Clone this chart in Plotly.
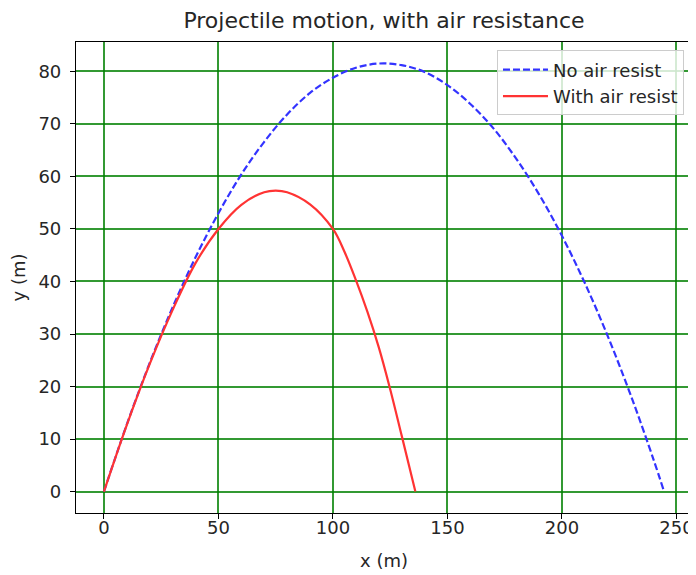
import plotly.graph_objects as go

# Data
x_no_air = [0, 10, 20, 30, 40, 50, 60, 70, 80, 90, 100, 110, 120, 130, 140,
            150, 160, 170, 180, 190, 200, 210, 220, 230, 240, 244.6]
y_no_air = [0, 12.8, 24.5, 35.1, 44.6, 53.0, 60.4, 66.6, 71.8, 75.9, 78.8, 80.7,
            81.5, 81.2, 79.9, 77.4, 73.8, 69.2, 63.4, 56.6, 48.7, 39.7, 29.6,
            18.4, 6.1, 0]

x_air = [0, 10, 20, 30, 40, 50, 60, 70, 75, 80, 90, 100, 105, 110, 115, 120,
         125, 130, 136]
y_air = [0, 12.7, 24.3, 34.6, 43.5, 50.0, 54.6, 57.0, 57.3, 57.0, 54.7, 50.0,
         45.7, 40.3, 34.3, 27.5, 19.5, 10.7, 0]

x_ticks = [0, 50, 100, 150, 200, 250]
y_ticks = [0, 10, 20, 30, 40, 50, 60, 70, 80]

FONT = "DejaVu Sans"
TXT = "#262626"
GRID = "rgba(0,128,0,0.8)"

W, H = 688, 567

fig = go.Figure()
fig.add_trace(go.Scatter(
    x=x_no_air, y=y_no_air, mode="lines", name="No air resist",
    line=dict(color="rgb(51,51,255)", width=2.2, dash="7px,3px", shape="spline"),
))
fig.add_trace(go.Scatter(
    x=x_air, y=y_air, mode="lines", name="With air resist",
    line=dict(color="rgb(255,51,51)", width=2.2, shape="spline"),
))

axis_common = dict(
    showline=True, linecolor="black", linewidth=1.2, mirror=True,
    ticks="outside", ticklen=5, tickwidth=1.2, tickcolor="black",
    showgrid=True, gridcolor=GRID, gridwidth=1.5, zeroline=False,
    tickfont=dict(family=FONT, size=18, color=TXT),
)

fig.update_layout(
    width=W, height=H,
    margin=dict(l=68, r=2, t=34, b=62),
    plot_bgcolor="white", paper_bgcolor="white",
    font=dict(family=FONT, color=TXT),
    title=dict(text="Projectile motion, with air resistance",
               x=0.5, xref="paper", xanchor="center",
               y=1 - 12 / H, yref="container", yanchor="middle",
               font=dict(family=FONT, size=22, color=TXT)),
    xaxis=dict(range=[-12.2, 256.8], tickvals=x_ticks, ticklabelstandoff=-7,
               title=dict(text="x (m)", font=dict(family=FONT, size=18, color=TXT), standoff=17),
               **axis_common),
    yaxis=dict(range=[-4.08, 85.6], tickvals=y_ticks, ticklabelstandoff=5,
               title=dict(text="y (m)", font=dict(family=FONT, size=18, color=TXT), standoff=8),
               **axis_common),
    legend=dict(x=0.987, y=0.982, xanchor="right", yanchor="top",
                bgcolor="rgba(255,255,255,0.8)", bordercolor="#cccccc", borderwidth=1,
                itemwidth=45,
                font=dict(family=FONT, size=18, color=TXT)),
    showlegend=True,
)

fig.add_annotation(text="x (m)", xref="paper", yref="paper", x=0.5, y=1.099,
                   xanchor="center", yanchor="middle", showarrow=False,
                   font=dict(family=FONT, size=18, color=TXT))

fig.write_html("out.html")
